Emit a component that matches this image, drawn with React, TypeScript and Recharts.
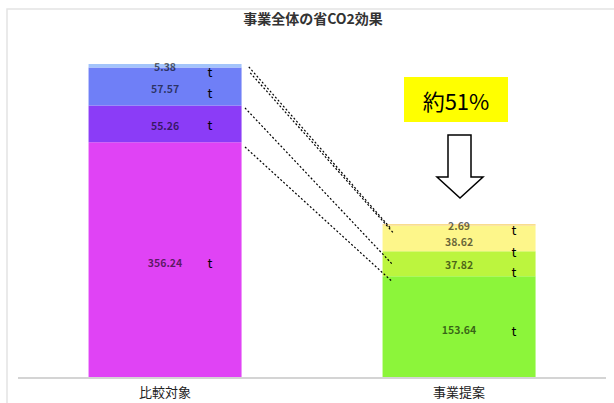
import React from 'react';
import { BarChart, Bar, XAxis, YAxis, Cell, LabelList, ReferenceLine, Customized } from 'recharts';

// categories and stacked values (t-CO2)
const categories = ['比較対象', '事業提案'];
const baseValues = [356.24, 153.64];
const secondValues = [55.26, 37.82];
const thirdValues = [57.57, 38.62];
const topValues = [5.38, 2.69];

const seriesColors = [
  ['#e043f5', '#8cf53a'],
  ['#8b3cf7', '#bcf53e'],
  ['#6f7ff7', '#fdf68a'],
  ['#a3c4fb', '#f9dd8e'],
];

// vertical nudges of the value labels and "t" unit marks, per series and category (style only)
const valueDy = [
  [2, 2],
  [2, 1],
  [1.5, 3],
  [1, 1],
];
const unitDy = [
  [2, 3],
  [1, 8],
  [6, 13],
  [6, 5],
];

// dashed connector lines (in value units; x as fraction of plot width)
const connectorFromY = [470, 461, 408, 349];
const connectorToY = [225, 220, 171, 146];
const connectorFromX = [0.3925, 0.395, 0.386, 0.386];
const connectorToX = [0.635, 0.6375, 0.6375, 0.636];

const title = '事業全体の省CO2効果';
const reductionLabel = '約51%';

const data = categories.map((name, i) => ({
  name,
  s1: baseValues[i],
  s2: secondValues[i],
  s3: thirdValues[i],
  s4: topValues[i],
}));

const FONT = '"Noto Sans CJK JP", "Noto Sans", sans-serif';

const makeValueLabel = (si: number) => (props: any) => {
  const { x, y, width, height, value, index } = props;
  const cx = x + width / 2;
  const cy = y + height / 2;
  const tOff = index === 0 ? 45 : 55;
  return (
    <g>
      <text
        x={cx}
        y={cy + valueDy[si][index]}
        textAnchor="middle"
        dominantBaseline="central"
        fontFamily={FONT}
        fontSize={10.5}
        fontWeight="bold"
        fill="#000"
        fillOpacity={0.6}
      >
        {value}
      </text>
      <text
        x={cx + tOff}
        y={cy + unitDy[si][index]}
        textAnchor="middle"
        dominantBaseline="central"
        fontFamily={FONT}
        fontSize={13}
        fill="#000"
      >
        t
      </text>
    </g>
  );
};

const Annotations = () => (
  <g>
    <rect x={7} y={9} width={640} height={420} fill="none" stroke="#e4e4e4" strokeWidth={1.5} />
    <text
      x={313}
      y={18}
      textAnchor="middle"
      dominantBaseline="central"
      fontFamily={FONT}
      fontSize={14}
      fontWeight="bold"
      fill="#333"
    >
      {title}
    </text>
    <rect x={404} y={77} width={104} height={45} fill="#ffff00" />
    <text
      x={456}
      y={100}
      textAnchor="middle"
      dominantBaseline="central"
      fontFamily={FONT}
      fontSize={22}
      fill="#000"
    >
      {reductionLabel}
    </text>
    <polygon
      points="448,135 471,135 471,177 483,177 460,198 437,177 448,177"
      fill="#fff"
      stroke="#000"
      strokeWidth={1.5}
    />
  </g>
);

export default function App() {
  const series = ['s1', 's2', 's3', 's4'];
  return (
    <div style={{ position: 'absolute', left: 0, top: 0, background: '#fff' }}>
      <BarChart
        width={614}
        height={403}
        data={data}
        margin={{ top: 47, right: 8, bottom: 0, left: 18 }}
        barCategoryGap="24%"
      >
        <Customized component={Annotations} />
        <XAxis
          dataKey="name"
          xAxisId="cat"
          height={25}
          tickLine={false}
          axisLine={{ stroke: '#d4d4d4', strokeWidth: 2 }}
          tick={{ fontFamily: FONT, fontSize: 13, fill: '#222', dy: 2 }}
        />
        <XAxis xAxisId="n" type="number" domain={[0, 1]} allowDataOverflow hide />
        <YAxis domain={[0, 500]} hide allowDataOverflow />
        {series.map((key, si) => (
          <Bar key={key} dataKey={key} stackId="a" xAxisId="cat" isAnimationActive={false}>
            {data.map((_, i) => (
              <Cell key={i} fill={seriesColors[si][i]} />
            ))}
            <LabelList dataKey={key} content={makeValueLabel(si)} />
          </Bar>
        ))}
        {connectorFromY.map((fy, i) => (
          <ReferenceLine
            key={i}
            xAxisId="n"
            ifOverflow="visible"
            segment={[
              { x: connectorFromX[i], y: fy },
              { x: connectorToX[i], y: connectorToY[i] },
            ]}
            stroke="#000"
            strokeWidth={1.2}
            strokeDasharray="2 2"
          />
        ))}
      </BarChart>
    </div>
  );
}
